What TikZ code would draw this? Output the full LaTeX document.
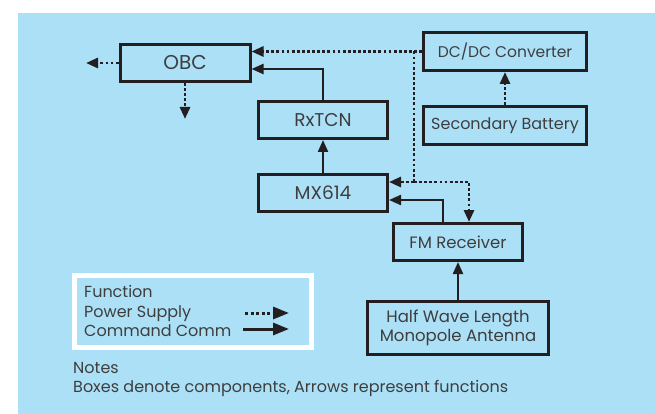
\documentclass[tikz,border=0pt]{standalone}
\usepackage{fontspec}
\setmainfont{Poppins}
\usetikzlibrary{positioning,calc,arrows.meta}
\definecolor{skyback}{RGB}{171,224,247}
\definecolor{inkline}{RGB}{35,31,32}
\definecolor{inktext}{RGB}{62,62,62}
\tikzset{
comp/.style={draw=inkline,line width=3pt,minimum width=129pt,minimum height=37pt,inner sep=0pt,text=inktext,font=\fontsize{16.5}{19.5}\selectfont,align=center},
power/.style={-{Triangle[length=12pt,width=10pt]},draw=inkline,line width=2.8pt,dash pattern=on 2.8pt off 2.3pt},
cmd/.style={-{Triangle[length=12pt,width=10pt]},draw=inkline,line width=2.2pt},
legpower/.style={-{Triangle[length=16pt,width=12pt]},draw=inkline,line width=3pt,dash pattern=on 3pt off 2.5pt},
legcmd/.style={-{Triangle[length=16pt,width=12pt]},draw=inkline,line width=3pt},
note/.style={anchor=base west,inner sep=0pt,text=inktext,font=\fontsize{16}{19}\selectfont}
}
\begin{document}
\begin{tikzpicture}[x=1pt,y=-1pt]
\useasboundingbox (0,0) rectangle (655,414);
\fill[skyback] (18,13) rectangle (655,414);
% components
\node[comp,minimum width=130pt,font=\fontsize{20}{22}\selectfont] (obc) at (185,63) {OBC};
\node[comp,font=\fontsize{18.5}{20}\selectfont] (rx) at (323,120) {RxTCN};
\node[comp,font=\fontsize{18.5}{20}\selectfont,below=33pt of rx] (mx) {MX614};
\node[comp,minimum width=163pt,minimum height=38pt,font=\fontsize{15.5}{19}\selectfont] (dcdc) at (505,51.5) {DC/DC Converter};
\node[comp,minimum width=163pt,minimum height=38pt,font=\fontsize{16}{19}\selectfont,below=33pt of dcdc] (batt) {Secondary Battery};
\node[comp] (fm) at (458,242) {FM Receiver};
\node[comp,minimum width=181pt,minimum height=53pt,below=38pt of fm] (ant) {Half Wave Length\\Monopole Antenna};
% power supply
\coordinate (pj) at (414,182);
\coordinate (obcleft) at (86,63);
\coordinate (obcdown) at (185,119);
\draw[power] (dcdc.west) -- (obc.east |- dcdc.west);
\draw[power,-] (dcdc.west -| pj) -- (pj);
\draw[power] (pj) -- (mx.east |- pj);
\draw[power] (pj) -| ($(fm.north)+(11,0)$);
\draw[power] (batt.north) -- (dcdc.south);
\draw[power] (obc.west) -- (obcleft);
\draw[power] (obc.south) -- (obcdown);
% command comm
\draw[cmd] (rx.north) |- ($(obc.east)+(0,6)$);
\draw[cmd] (mx.north) -- (rx.south);
\draw[cmd] ($(fm.north)+(-15,0)$) |- ($(mx.east)+(0,7)$);
\draw[cmd] (ant.north) -- (fm.south);
% legend
\node[draw=white,line width=5pt,minimum width=237pt,minimum height=72pt,inner sep=0pt] (legend) at (193,311.5) {};
\node[note] (fn) at (84,297) {Function};
\node[note] (ps) at (84,317) {Power Supply};
\node[note] (cc) at (84,336) {Command Comm};
\coordinate (psA) at (245,313);
\coordinate (psB) at (289,313);
\coordinate (ccA) at (243,329);
\coordinate (ccB) at (289,329);
\draw[legpower] (psA) -- (psB);
\draw[legcmd] (ccA) -- (ccB);
% notes
\node[note] (nt) at (73,373) {Notes};
\node[note] (nb) at (73,392) {Boxes denote components, Arrows represent functions};
\end{tikzpicture}
\end{document}
